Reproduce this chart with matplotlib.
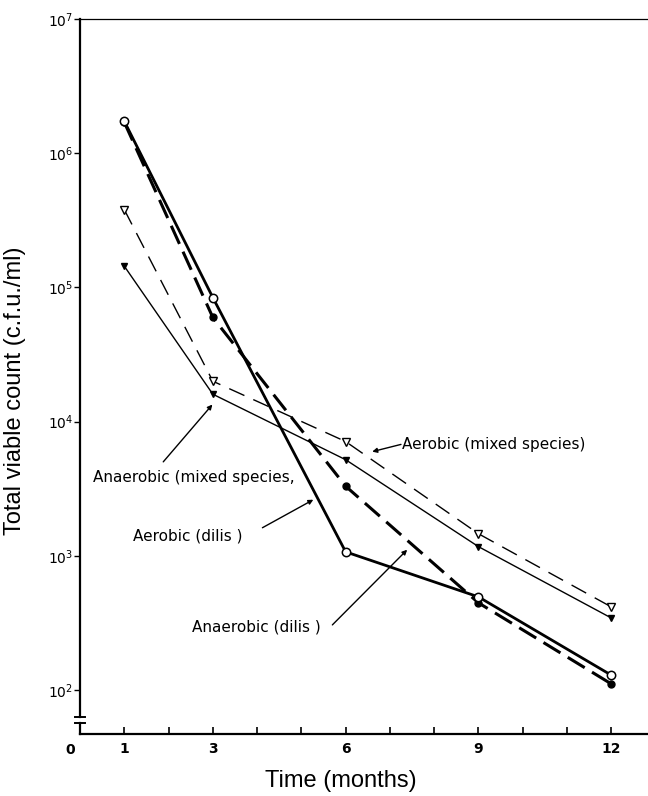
import numpy as np
import matplotlib
matplotlib.use("Agg")
import matplotlib.pyplot as plt
from matplotlib.ticker import FixedLocator, NullFormatter

# storage time (months) and total viable counts (c.f.u./ml)
months = [1, 3, 6, 9, 12]
aerobic_dilis = [1.73e6, 8.4e4, 1.07e3, 494, 129]
anaerobic_dilis = [1.70e6, 5.97e4, 3.3e3, 446, 111]
aerobic_mixed = [3.8e5, 2.0e4, 7.1e3, 1.46e3, 416]
anaerobic_mixed = [1.44e5, 1.6e4, 5.2e3, 1.17e3, 344]

x_ticks = [1, 3, 6, 9, 12]
x_minor = [2, 4, 5, 7, 8, 10, 11]
y_ticks = [1e2, 1e3, 1e4, 1e5, 1e6, 1e7]
y_ticklabels = ["$10^{2}$", "$10^{3}$", "$10^{4}$", "$10^{5}$", "$10^{6}$", "$10^{7}$"]

fig = plt.figure(figsize=(6.48, 7.96), dpi=100)
ax = fig.add_axes([0.1235, 0.0779, 0.8765, 0.8982])
ax.set_yscale("log")
ax.set_xlim(0, 12.83)
ax.set_ylim(10 ** 1.672, 1e7)

# the four curves
ax.plot(months, anaerobic_mixed, color="black", lw=1.0, marker="v",
        ms=5, mfc="black", mec="black", zorder=3)
ax.plot(months, aerobic_mixed, color="black", lw=1.0, ls=(0, (12, 7)),
        marker="v", ms=6, mfc="white", mec="black", mew=1.0, zorder=3)
ax.plot(months, anaerobic_dilis, color="black", lw=2.2, ls=(0, (6.5, 2.8)),
        marker="o", ms=5, mfc="black", mec="black", zorder=4)
ax.plot(months, aerobic_dilis, color="black", lw=2.0,
        marker="o", ms=6, mfc="white", mec="black", mew=1.1, zorder=5)

# curve labels and their leader lines
txt = dict(fontsize=11, family="DejaVu Sans", va="center", ha="left")
arrow = dict(arrowstyle="-|>", color="black", lw=1.0,
             mutation_scale=7, shrinkA=0, shrinkB=0)

ax.text(7.28, 10 ** 3.83, "Aerobic (mixed species)", **txt)
ax.annotate("", xy=(6.6, 10 ** 3.776), xytext=(7.25, 10 ** 3.83),
            arrowprops=arrow)

ax.text(0.3, 10 ** 3.582, "Anaerobic (mixed species,", **txt)
ax.annotate("", xy=(2.99, 10 ** 4.127), xytext=(1.88, 10 ** 3.70),
            arrowprops=arrow)

ax.text(1.2, 10 ** 3.149, "Aerobic (dilis )", **txt)
ax.annotate("", xy=(5.27, 10 ** 3.418), xytext=(4.12, 10 ** 3.209),
            arrowprops=arrow)

ax.text(2.53, 10 ** 2.47, "Anaerobic (dilis )", **txt)
ax.annotate("", xy=(7.39, 10 ** 3.045), xytext=(5.70, 10 ** 2.485),
            arrowprops=arrow)

# axes styling
ax.spines["right"].set_visible(False)
ax.spines["top"].set_linewidth(0.9)
ax.spines["left"].set_linewidth(1.6)
ax.spines["bottom"].set_linewidth(1.6)
ax.spines["left"].set_bounds(10 ** 1.799, 1e7)

ax.xaxis.set_major_locator(FixedLocator(x_ticks))
ax.xaxis.set_minor_locator(FixedLocator(x_minor))
ax.xaxis.set_minor_formatter(NullFormatter())
ax.set_xticklabels([str(t) for t in x_ticks], fontsize=10,
                   family="Liberation Sans Narrow", fontweight="bold")
ax.tick_params(axis="x", which="both", direction="in", length=5, width=1.2,
               pad=6)

ax.yaxis.set_major_locator(FixedLocator(y_ticks))
ax.yaxis.set_minor_locator(FixedLocator([]))
ax.set_yticklabels(y_ticklabels, fontsize=10)
ax.tick_params(axis="y", which="major", direction="out", length=4, width=1.0,
               pad=1)

# break in the y axis just above the origin
brk = dict(color="black", lw=1.4, transform=ax.transAxes, clip_on=False)
ax.plot([-0.008, 0.008], [0.0238, 0.0238], **brk)
ax.plot([-0.008, 0.008], [0.0154, 0.0154], **brk)
ax.plot([0, 0], [0, 0.0154], color="black", lw=1.6,
        transform=ax.transAxes, clip_on=False)
ax.text(-0.018, -0.012, "0", transform=ax.transAxes, ha="center", va="top",
        fontsize=10, fontweight="bold", family="Liberation Sans Narrow")

ax.set_xlabel("Time (months)", fontsize=17, family="Liberation Sans",
              labelpad=10)
ax.set_ylabel("Total viable count (c.f.u./ml)", fontsize=17,
              family="Liberation Sans", labelpad=10)
ax.xaxis.set_label_coords(0.46, -0.05)
ax.yaxis.set_label_coords(-0.095, 0.48)

fig.savefig("out.png", dpi=100)
